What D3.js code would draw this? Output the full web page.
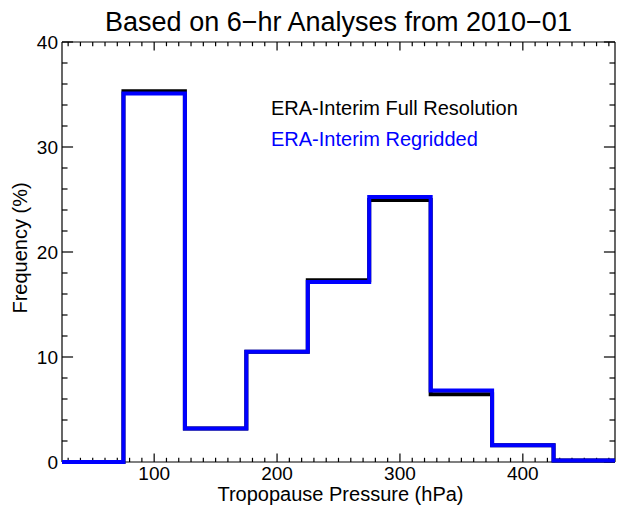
<!DOCTYPE html>
<html>
<head>
<meta charset="utf-8">
<script src="https://cdn.jsdelivr.net/npm/d3@7"></script>
<style>
  body { margin: 0; background: #fff; }
  svg text { font-family: "Liberation Sans", Arial, Helvetica, sans-serif; }
</style>
</head>
<body>
<svg class="chart" width="617" height="508"></svg>
<script>
const width = 617;
const height = 508;

// bin edges (hPa) and frequencies (%) per bin
const binEdges = [25, 75, 125, 175, 225, 275, 325, 375, 425, 475];
const fullRes = [0, 35.3, 3.2, 10.5, 17.3, 24.95, 6.45, 1.6, 0.15];
const regridded = [0, 35.1, 3.2, 10.5, 17.15, 25.25, 6.8, 1.6, 0.15];

const xMajor = [100, 200, 300, 400];
const yMajor = [0, 10, 20, 30, 40];

const margin = { top: 42, right: 2, bottom: 46, left: 62 };
const x0 = margin.left, x1 = width - margin.right;
const y0 = height - margin.bottom, y1 = margin.top;

const svg = d3.select(".chart");

const x = d3.scaleLinear().domain([25, 475]).range([x0, x1]);
const y = d3.scaleLinear().domain([0, 40]).range([y0, y1]);

// tick lengths like IDL: 2% of the opposite dimension
const xTickLen = 0.02 * (y0 - y1);
const yTickLen = 0.02 * (x1 - x0);

const xMinor = d3.range(30, 475, 10).filter(d => !xMajor.includes(d));
const yMinor = d3.range(2, 40, 2).filter(d => !yMajor.includes(d));

const axes = svg.append("g").attr("stroke", "#000").attr("stroke-width", 1.2);

// bottom and top axes
axes.append("line").attr("x1", x0).attr("x2", x1).attr("y1", y0).attr("y2", y0);
axes.append("line").attr("x1", x0).attr("x2", x1).attr("y1", y1).attr("y2", y1);
[[y0, -1], [y1, 1]].forEach(([yy, dir]) => {
  axes.selectAll(null).data(xMajor).enter().append("line")
    .attr("x1", d => x(d)).attr("x2", d => x(d))
    .attr("y1", yy).attr("y2", yy + dir * xTickLen);
  axes.selectAll(null).data(xMinor).enter().append("line")
    .attr("x1", d => x(d)).attr("x2", d => x(d))
    .attr("y1", yy).attr("y2", yy + dir * xTickLen / 2);
});

// left and right axes
axes.append("line").attr("x1", x0).attr("x2", x0).attr("y1", y0).attr("y2", y1);
axes.append("line").attr("x1", x1).attr("x2", x1).attr("y1", y0).attr("y2", y1);
[[x0, 1], [x1, -1]].forEach(([xx, dir]) => {
  axes.selectAll(null).data(yMajor).enter().append("line")
    .attr("y1", d => y(d)).attr("y2", d => y(d))
    .attr("x1", xx).attr("x2", xx + dir * yTickLen);
  axes.selectAll(null).data(yMinor).enter().append("line")
    .attr("y1", d => y(d)).attr("y2", d => y(d))
    .attr("x1", xx).attr("x2", xx + dir * yTickLen / 2);
});

// tick labels
svg.selectAll(".xlab").data(xMajor).enter().append("text")
  .attr("class", "xlab")
  .attr("x", d => x(d)).attr("y", y0 + 18)
  .attr("text-anchor", "middle").attr("font-size", 19)
  .text(d => d);

svg.selectAll(".ylab").data(yMajor).enter().append("text")
  .attr("class", "ylab")
  .attr("x", x0 - 4).attr("y", d => y(d) + 7)
  .attr("text-anchor", "end").attr("font-size", 19)
  .text(d => d);

// step lines
const stepPoints = vals => vals.map((v, i) => [binEdges[i], v]).concat([[binEdges[binEdges.length - 1], vals[vals.length - 1]]]);
const line = d3.line().x(d => x(d[0])).y(d => y(d[1])).curve(d3.curveStepAfter);

svg.append("path")
  .attr("d", line(stepPoints(fullRes)))
  .attr("fill", "none").attr("stroke", "#000").attr("stroke-width", 4);

svg.append("path")
  .attr("d", line(stepPoints(regridded)))
  .attr("fill", "none").attr("stroke", "#0000ff").attr("stroke-width", 4);

// legend
svg.append("text").attr("x", 271).attr("y", 115).attr("font-size", 20)
  .attr("fill", "#000").text("ERA-Interim Full Resolution");
svg.append("text").attr("x", 271).attr("y", 146).attr("font-size", 20)
  .attr("fill", "#0000ff").text("ERA-Interim Regridded");

// titles
svg.append("text").attr("x", (x0 + x1) / 2).attr("y", 31)
  .attr("text-anchor", "middle").attr("font-size", 27)
  .text("Based on 6\u2212hr Analyses from 2010\u221201");

svg.append("text").attr("x", (x0 + x1) / 2 + 2).attr("y", 501)
  .attr("text-anchor", "middle").attr("font-size", 20)
  .text("Tropopause Pressure (hPa)");

svg.append("text")
  .attr("transform", `translate(27,${(y0 + y1) / 2 - 4}) rotate(-90)`)
  .attr("text-anchor", "middle").attr("font-size", 20)
  .text("Frequency (%)");
</script>
</body>
</html>
